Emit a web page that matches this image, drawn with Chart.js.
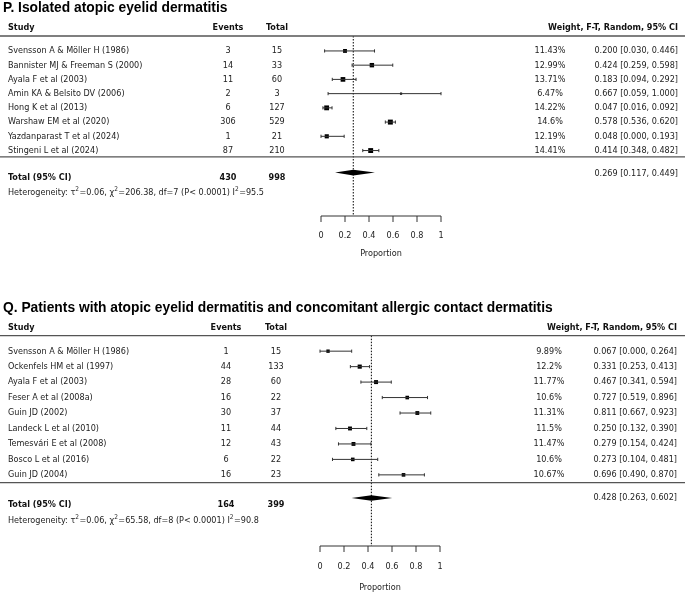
<!DOCTYPE html>
<html><head><meta charset="utf-8">
<script src="https://cdn.jsdelivr.net/npm/chart.js@4.4.1/dist/chart.umd.min.js"></script>
<style>
html,body{margin:0;padding:0;background:#fff;}
#wrap{position:relative;width:685px;height:594px;overflow:hidden;}
.c{position:absolute;left:0;width:685px;height:297px;}
canvas{display:block;}
</style></head><body>
<div id="wrap">
<div class="c" style="top:0"><canvas id="cP"></canvas></div>
<div class="c" style="top:297px"><canvas id="cQ"></canvas></div>
</div>
<script>
// ---------- Panel P data ----------
const titleP = 'P. Isolated atopic eyelid dermatitis';
const studiesP = ['Svensson A & Möller H (1986)','Bannister MJ & Freeman S (2000)','Ayala F et al (2003)','Amin KA & Belsito DV (2006)','Hong K et al (2013)','Warshaw EM et al (2020)','Yazdanparast T et al (2024)','Stingeni L et al (2024)'];
const eventsP = [3,14,11,2,6,306,1,87];
const totalsP = [15,33,60,3,127,529,21,210];
const weightsP = [11.43,12.99,13.71,6.47,14.22,14.6,12.19,14.41];
const estP = [0.200,0.424,0.183,0.667,0.047,0.578,0.048,0.414];
const lowP = [0.030,0.259,0.094,0.059,0.016,0.536,0.000,0.348];
const highP = [0.446,0.598,0.292,1.000,0.092,0.620,0.193,0.482];
const pooledP = [0.269,0.117,0.449];
const sumEventsP = 430, sumTotalP = 998;
const heteroP = ['0.06','206.38','7','0.0001','95.5'];

// ---------- Panel Q data ----------
const titleQ = 'Q. Patients with atopic eyelid dermatitis and concomitant allergic contact dermatitis';
const studiesQ = ['Svensson A & Möller H (1986)','Ockenfels HM et al (1997)','Ayala F et al (2003)','Feser A et al (2008a)','Guin JD (2002)','Landeck L et al (2010)','Temesvári E et al (2008)','Bosco L et al (2016)','Guin JD (2004)'];
const eventsQ = [1,44,28,16,30,11,12,6,16];
const totalsQ = [15,133,60,22,37,44,43,22,23];
const weightsQ = [9.89,12.2,11.77,10.6,11.31,11.5,11.47,10.6,10.67];
const estQ = [0.067,0.331,0.467,0.727,0.811,0.250,0.279,0.273,0.696];
const lowQ = [0.000,0.253,0.341,0.519,0.667,0.132,0.154,0.104,0.490];
const highQ = [0.264,0.413,0.594,0.896,0.923,0.390,0.424,0.481,0.870];
const pooledQ = [0.428,0.263,0.602];
const sumEventsQ = 164, sumTotalQ = 399;
const heteroQ = ['0.06','65.58','8','0.0001','90.8'];

// ---------- axis ----------
const xTicks = [0,0.2,0.4,0.6,0.8,1];
const xTickLabels = ['0','0.2','0.4','0.6','0.8','1'];
const xTitle = 'Proportion';
const headers = ['Study','Events','Total','Weight, F-T, Random, 95% CI'];

const BODY = "9px 'DejaVu Sans Condensed', 'DejaVu Sans', sans-serif";
const BOLD = "bold 9px 'DejaVu Sans Condensed', 'DejaVu Sans', sans-serif";
const TITLE = "bold 13.8px 'Liberation Sans', Arial, sans-serif";

function fmt(v){ return v.toFixed(3); }

function makePanel(id, d, L){
  const n = d.studies.length;
  const datasets = [];
  // confidence intervals
  for (let i=0;i<n;i++){
    datasets.push({
      data:[{x:d.low[i],y:i+1},{x:d.high[i],y:i+1}],
      showLine:true, borderColor:'#333', borderWidth:1,
      pointStyle:'line', rotation:90, pointRadius:1.6, pointBorderColor:'#333', pointBorderWidth:1,
      clip:false
    });
  }
  // study estimates
  datasets.push({
    data:d.est.map((v,i)=>({x:v,y:i+1})),
    pointStyle:'rect', pointRadius:d.weights.map(w=>w*0.34/1.414),
    backgroundColor:'#000', borderWidth:0, pointBorderWidth:0, showLine:false, clip:false
  });
  // reference (pooled) dotted line
  datasets.push({
    data:[{x:d.pooled[0],y:L.ymin},{x:d.pooled[0],y:L.ymax}],
    showLine:true, borderColor:'#000', borderWidth:1, borderDash:[1.5,1.5], pointRadius:0, clip:false
  });

  const textPlugin = {
    id:'forestText',
    afterDatasetsDraw(chart){
      const ctx = chart.ctx, x = chart.scales.x, y = chart.scales.y;
      const W = chart.width;
      ctx.save();
      // diamond
      const dy = y.getPixelForValue(L.diamond);
      ctx.fillStyle = '#000';
      ctx.beginPath();
      ctx.moveTo(x.getPixelForValue(d.pooled[1]), dy);
      ctx.lineTo(x.getPixelForValue(d.pooled[0]), dy-2.8);
      ctx.lineTo(x.getPixelForValue(d.pooled[2]), dy);
      ctx.lineTo(x.getPixelForValue(d.pooled[0]), dy+2.8);
      ctx.closePath(); ctx.fill();
      // horizontal rules
      ctx.strokeStyle = '#555'; ctx.lineWidth = 1.3;
      [L.ymin, L.sep].forEach(v=>{
        const py = y.getPixelForValue(v);
        ctx.beginPath(); ctx.moveTo(0,py); ctx.lineTo(W,py); ctx.stroke();
      });
      // x axis
      const ay = y.getPixelForValue(L.ymax);
      ctx.strokeStyle = '#333'; ctx.lineWidth = 1;
      ctx.beginPath();
      ctx.moveTo(x.getPixelForValue(xTicks[0]), ay);
      ctx.lineTo(x.getPixelForValue(xTicks[xTicks.length-1]), ay);
      ctx.stroke();
      ctx.font = BODY; ctx.fillStyle = '#222'; ctx.textBaseline = 'middle'; ctx.textAlign = 'center';
      xTicks.forEach((t,k)=>{
        const px = x.getPixelForValue(t);
        ctx.beginPath(); ctx.moveTo(px, ay); ctx.lineTo(px, ay+L.tickLen); ctx.stroke();
        ctx.fillText(xTickLabels[k], px, ay+L.labelOff);
      });
      ctx.fillText(xTitle, (x.left+x.right)/2, ay+L.titleOff);
      // title
      ctx.fillStyle = '#000'; ctx.font = TITLE; ctx.textAlign = 'left';
      ctx.fillText(d.title, 3, L.titleY);
      // headers
      ctx.font = BOLD; ctx.fillStyle = '#111';
      const hy = L.headY;
      ctx.textAlign='left'; ctx.fillText(headers[0], 8, hy);
      ctx.textAlign='center'; ctx.fillText(headers[1], L.evX, hy); ctx.fillText(headers[2], L.totX, hy);
      ctx.textAlign='right'; ctx.fillText(headers[3], L.ciX, hy);
      // rows
      ctx.font = BODY; ctx.fillStyle = '#222';
      for (let i=0;i<n;i++){
        const py = y.getPixelForValue(i+1);
        ctx.textAlign='left'; ctx.fillText(d.studies[i], 8, py);
        ctx.textAlign='center';
        ctx.fillText(String(d.events[i]), L.evX, py);
        ctx.fillText(String(d.totals[i]), L.totX, py);
        ctx.fillText(String(d.weights[i])+'%', L.wX, py);
        ctx.textAlign='right';
        ctx.fillText(fmt(d.est[i])+' ['+fmt(d.low[i])+', '+fmt(d.high[i])+']', L.ciX, py);
      }
      // pooled
      ctx.textAlign='right';
      ctx.fillText(fmt(d.pooled[0])+' ['+fmt(d.pooled[1])+', '+fmt(d.pooled[2])+']', L.ciX, y.getPixelForValue(L.pooledText));
      // total row
      const ty = y.getPixelForValue(L.totalRow);
      ctx.font = BOLD; ctx.fillStyle = '#111';
      ctx.textAlign='left'; ctx.fillText('Total (95% CI)', 8, ty);
      ctx.textAlign='center'; ctx.fillText(String(d.sumEvents), L.evX, ty); ctx.fillText(String(d.sumTotal), L.totX, ty);
      // heterogeneity with superscripts
      const hh = y.getPixelForValue(L.hetRow);
      const h = d.hetero;
      const parts = [['Heterogeneity: τ',0],['2',1],['='+h[0]+', χ',0],['2',1],['='+h[1]+', df='+h[2]+' (P< '+h[3]+') I',0],['2',1],['='+h[4],0]];
      let cx = 8; ctx.textAlign='left'; ctx.fillStyle='#222';
      parts.forEach(([s,sup])=>{
        ctx.font = sup ? "6.5px 'DejaVu Sans Condensed', 'DejaVu Sans', sans-serif" : BODY;
        ctx.fillText(s, cx, sup ? hh-3 : hh);
        cx += ctx.measureText(s).width + (sup?0.5:0);
      });
      ctx.restore();
    }
  };

  return new Chart(document.getElementById(id), {
    type:'scatter',
    data:{datasets},
    options:{
      responsive:true, maintainAspectRatio:false, animation:false, devicePixelRatio:1,
      layout:{padding:{left:L.left, right:685-L.right, top:L.top, bottom:297-L.bottom}},
      scales:{
        x:{type:'linear', min:0, max:1, display:false},
        y:{type:'linear', min:L.ymin, max:L.ymax, reverse:true, display:false}
      },
      plugins:{legend:{display:false}, tooltip:{enabled:false}},
      events:[]
    },
    plugins:[textPlugin]
  });
}

makePanel('cP', {title:titleP, studies:studiesP, events:eventsP, totals:totalsP, weights:weightsP, est:estP, low:lowP, high:highP, pooled:pooledP, sumEvents:sumEventsP, sumTotal:sumTotalP, hetero:heteroP},
  {left:321, right:441, top:36, bottom:216, ymin:-0.05, ymax:12.6, sep:8.45, diamond:9.55, pooledText:9.6, totalRow:9.9, hetRow:10.95,
   tickLen:6, labelOff:20, titleOff:38, titleY:8, headY:28, evX:228, totX:277, wX:550, ciX:678});

makePanel('cQ', {title:titleQ, studies:studiesQ, events:eventsQ, totals:totalsQ, weights:weightsQ, est:estQ, low:lowQ, high:highQ, pooled:pooledQ, sumEvents:sumEventsQ, sumTotal:sumTotalQ, hetero:heteroQ},
  {left:320, right:440, top:38.7, bottom:249, ymin:0, ymax:13.6, sep:9.5, diamond:10.5, pooledText:10.45, totalRow:10.9, hetRow:11.95,
   tickLen:6, labelOff:21, titleOff:42, titleY:11.5, headY:30.5, evX:226, totX:276, wX:549, ciX:677});
</script>
</body></html>
